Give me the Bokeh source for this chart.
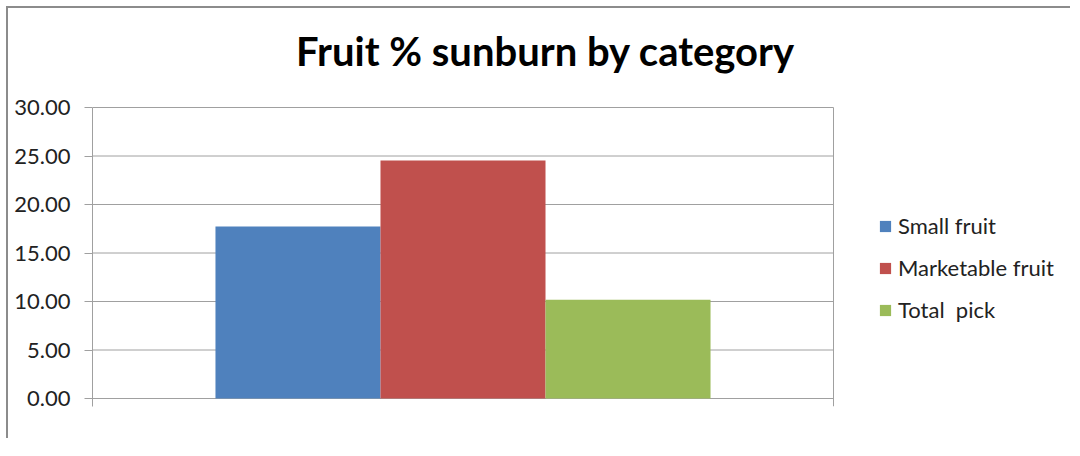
from bokeh.plotting import figure
from bokeh.models import (Range1d, FixedTicker, NumeralTickFormatter, Legend, LegendItem,
                          ColumnDataSource, Label)
from bokeh.embed import file_html
from bokeh.resources import INLINE

# ---- data ----
title_text = "Fruit % sunburn by category"
series = ["Small fruit", "Marketable fruit", "Total  pick"]
values = [17.73, 24.54, 10.17]
colors = ["#4F81BD", "#C0504D", "#9BBB59"]
y_ticks = [0, 5, 10, 15, 20, 25, 30]

FONT = "Lato"
GRID = "#a0a0a0"
bar_w = 0.2227
offsets = [-bar_w, 0.0, bar_w]

# plot-area geometry (pixels, figure coordinates)
PX_PER_X = 741.0            # one category = plot-area width
PX_PER_Y = 291.0 / y_ticks[-1]
W, H = 1064, 432
ML, MR = 84, 8              # left margin (axis panel), right margin
ZERO_PX = 390               # y pixel of value 0 inside the figure
EXT_PX = 8                  # axis extension below zero
y_top = y_ticks[-1]
y_ext = EXT_PX / PX_PER_Y
y_end = ZERO_PX / PX_PER_Y  # frame starts at figure top
x_end = (W - ML - MR) / PX_PER_X

p = figure(width=W, height=H, output_backend="svg", toolbar_location=None,
           x_range=Range1d(0, x_end), y_range=Range1d(-y_ext, y_end),
           min_border_left=ML, min_border_right=MR, min_border_top=0,
           min_border_bottom=H - ZERO_PX - EXT_PX)
p.styles = {"box-shadow": "-2px -2px 0px 0px #8c8c8c",
            "margin-left": "8px", "margin-top": "8px"}

# gridlines and plot-area right edge (limited to the category span 0..1)
p.segment(x0=[0] * len(y_ticks), x1=[1] * len(y_ticks), y0=y_ticks, y1=y_ticks,
          line_color=GRID, line_width=1)
p.segment(x0=[1], x1=[1], y0=[-y_ext], y1=[y_top], line_color=GRID, line_width=1)

renderers = []
for name, val, col, off in zip(series, values, colors, offsets):
    src = ColumnDataSource(dict(x=[0.5 + off], top=[val]))
    r = p.vbar(x="x", top="top", bottom=0, width=bar_w, source=src,
               fill_color=col, line_color=None)
    renderers.append((name, r))

p.outline_line_color = None
p.background_fill_color = "white"
p.border_fill_color = "white"
p.xgrid.grid_line_color = None
p.ygrid.grid_line_color = None
p.xaxis.visible = False

# y axis
p.yaxis.ticker = FixedTicker(ticks=y_ticks)
p.yaxis.bounds = (-y_ext, y_top)
p.yaxis.formatter = NumeralTickFormatter(format="0.00")
p.yaxis.major_label_text_font = FONT
p.yaxis.major_label_text_font_size = "22px"
p.yaxis.major_label_text_color = "#222222"
p.yaxis.major_tick_out = 8
p.yaxis.major_tick_in = 0
p.yaxis.minor_tick_line_color = None
p.yaxis.axis_line_color = GRID
p.yaxis.major_tick_line_color = GRID
p.yaxis.major_label_standoff = 14

# chart title (screen units relative to the frame's bottom-left)
p.add_layout(Label(x=453, y=356, x_units="screen", y_units="screen",
                   text=title_text, text_align="center", text_baseline="alphabetic",
                   text_font=FONT, text_font_size="40px", text_font_style="bold",
                   text_color="#000000"))

legend = Legend(items=[LegendItem(label=n, renderers=[r]) for n, r in renderers],
                location=(786, 83), orientation="vertical",
                glyph_width=14, glyph_height=14, label_standoff=6,
                label_text_font=FONT, label_text_font_size="22px", label_text_color="#222222",
                label_height=20, spacing=15, padding=0, margin=0,
                border_line_color=None, background_fill_alpha=0)
p.add_layout(legend, "center")

open("out.html", "w").write(file_html(p, INLINE))
